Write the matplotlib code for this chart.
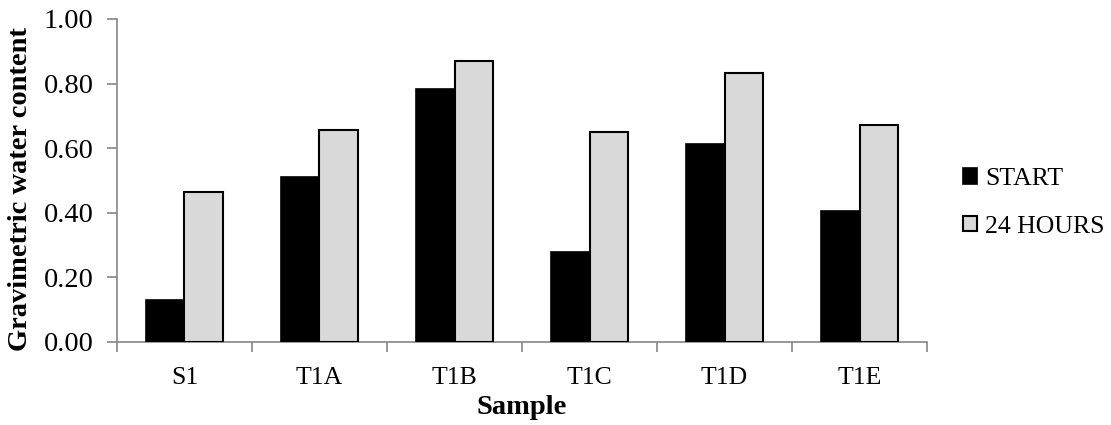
import matplotlib.pyplot as plt
import numpy as np

# dados
amostras = ["S1", "T1A", "T1B", "T1C", "T1D", "T1E"]
inicio = [0.13, 0.512, 0.783, 0.28, 0.612, 0.406]
horas_24 = [0.465, 0.656, 0.870, 0.651, 0.834, 0.672]

plt.rcParams["font.family"] = ["Liberation Serif", "DejaVu Serif"]

fig = plt.figure(figsize=(11.11, 4.25), dpi=100)
ax = fig.add_axes([0.1053, 0.1953, 0.7291, 0.76])

x = np.arange(len(amostras))
largura = 0.285
ax.bar(x - largura / 2, inicio, largura, color="black", edgecolor="black",
       linewidth=1.2, label="START", zorder=3)
ax.bar(x + largura / 2, horas_24, largura, color="#d9d9d9", edgecolor="black",
       linewidth=1.5, label="24 HOURS", zorder=3)

ax.set_xlim(-0.5, len(amostras) - 0.5)
ax.set_ylim(0, 1.0)
ax.set_yticks(np.arange(0, 1.01, 0.2))
ax.set_yticklabels([f"{v:.2f}" for v in np.arange(0, 1.01, 0.2)])
ax.set_xticks(x)
ax.set_xticklabels(amostras)
ax.set_xticks(np.arange(-0.5, len(amostras), 1), minor=True)

for lado in ["top", "right"]:
    ax.spines[lado].set_visible(False)
for lado in ["left", "bottom"]:
    ax.spines[lado].set_color("#868686")
    ax.spines[lado].set_linewidth(1.2)

ax.tick_params(axis="y", direction="out", length=7, width=1.2, color="#868686",
               labelsize=20.5, pad=10)
ax.tick_params(axis="x", which="major", length=0, labelsize=18.5, pad=18)
ax.tick_params(axis="x", which="minor", direction="out", length=7, width=1.2,
               color="#868686")

ax.set_ylabel("Gravimetric water content", fontsize=20.5, fontweight="bold")
ax.yaxis.set_label_coords(-0.104, 0.475)
ax.set_xlabel("Sample", fontsize=20.5, fontweight="bold")
ax.xaxis.set_label_coords(0.5, -0.165)

ax.legend(loc="center left", bbox_to_anchor=(0.846, 0.523),
          bbox_transform=fig.transFigure, frameon=False,
          fontsize=18.5, handlelength=0.55, handleheight=0.55, handletextpad=0.3,
          labelspacing=1.0)

plt.savefig("out.png", dpi=100)
plt.close()
